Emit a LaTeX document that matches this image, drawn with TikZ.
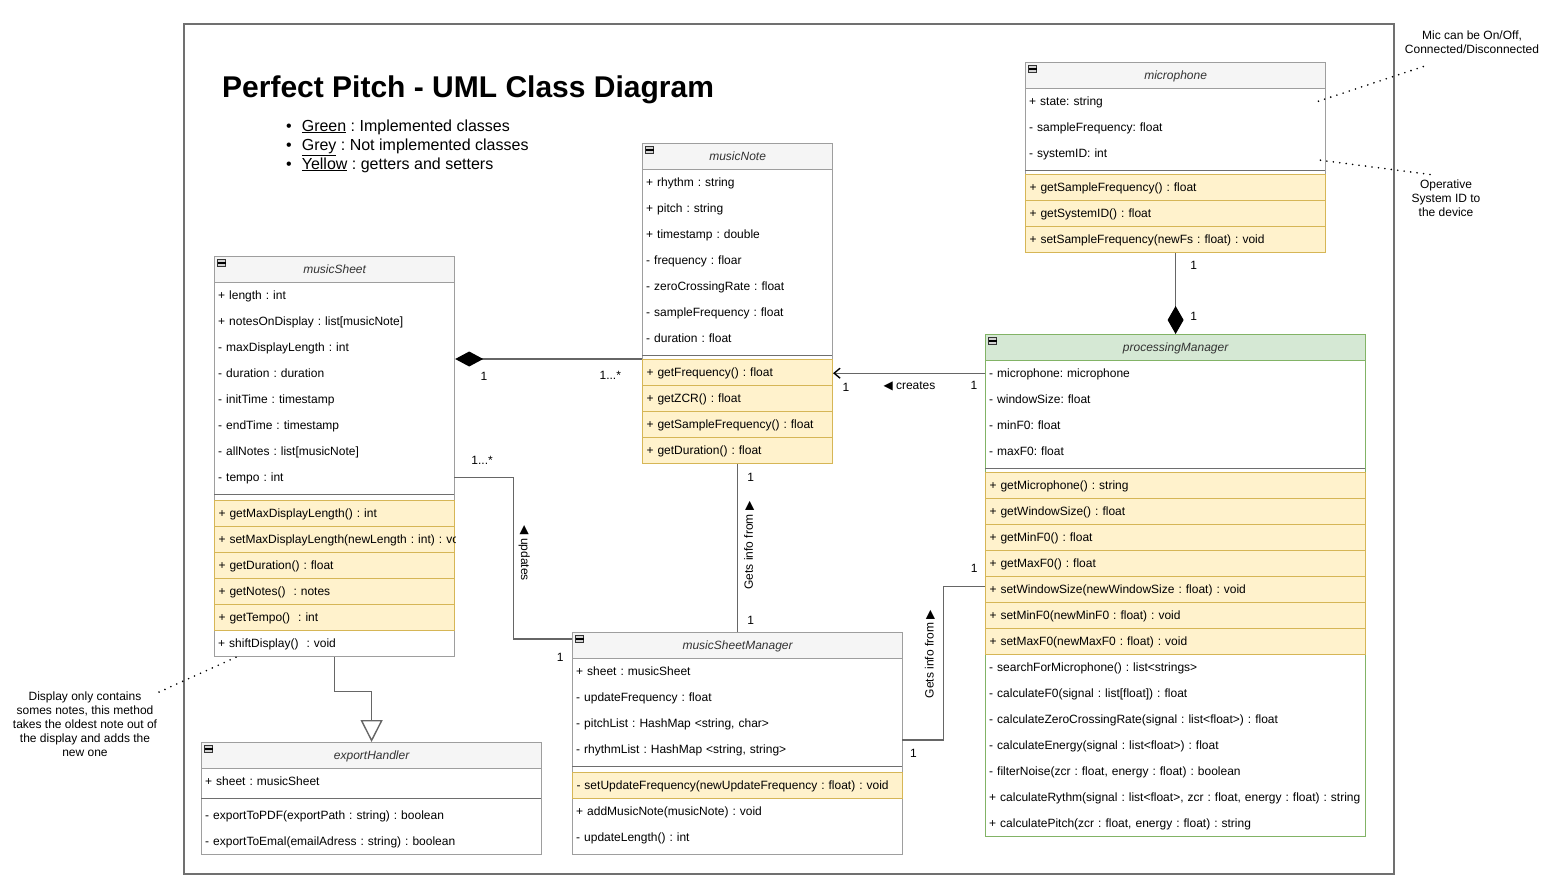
\documentclass[tikz,border=0pt]{standalone}
\usepackage{fontspec}
\setmainfont{Liberation Sans}
\newfontfamily\arrowfont{DejaVu Sans}
\usetikzlibrary{arrows.meta}
\frenchspacing

\definecolor{clsline}{HTML}{9E9E9E}
\definecolor{hdrfill}{HTML}{F5F5F5}
\definecolor{hdrtext}{HTML}{333333}
\definecolor{sepline}{HTML}{6E6E6E}
\definecolor{ylwfill}{HTML}{FFF2CC}
\definecolor{ylwline}{HTML}{D6B656}
\definecolor{grnfill}{HTML}{D5E8D4}
\definecolor{grnline}{HTML}{82B366}
\definecolor{wireline}{HTML}{666666}
\definecolor{frameline}{HTML}{707070}

\begin{document}
\begin{tikzpicture}[x=1pt, y=-1pt,
    box/.style={draw=clsline, fill=white, line width=1.2pt, anchor=north west, inner sep=0pt},
    head/.style={draw=clsline, fill=hdrfill, line width=1.2pt, anchor=north west, minimum height=26pt,
        inner sep=0pt, text height=8.6pt, text depth=0pt, text=hdrtext, font=\fontsize{12}{14}\selectfont\itshape,
        path picture={
            \draw[black!80, fill=gray!35, line width=0.6pt] ([shift={(3pt,-3pt)}]path picture bounding box.north west) rectangle ++(8pt,-7pt);
            \draw[black, line width=1.4pt] ([shift={(3pt,-6.5pt)}]path picture bounding box.north west) -- ++(8pt,0pt);
        }},
    row/.style={anchor=north west, minimum height=26pt, inner xsep=4pt, inner ysep=0pt,
        text height=8.6pt, text depth=0pt, align=left, font=\fontsize{12}{14}\selectfont},
    get/.style={row, draw=ylwline, fill=ylwfill, line width=1pt},
    sep/.style={draw=sepline, line width=1.6pt},
    wire/.style={draw=wireline, line width=1.4pt},
    lbl/.style={inner sep=0pt, text height=8.6pt, text depth=0pt, font=\fontsize{12}{14}\selectfont},
    note/.style={inner sep=0pt, align=center, font=\fontsize{12}{14}\selectfont},
    dots/.style={line width=1.8pt, line cap=round, dash pattern=on 0pt off 6.5pt}
  ]
\useasboundingbox (0,0) rectangle (1558,894);
\draw[frameline, line width=1.4pt] (184,24) rectangle (1394,874);

\node[anchor=base west, inner sep=0pt, font=\fontsize{30}{35}\selectfont\bfseries] (title) at (222,97) {Perfect Pitch - UML Class Diagram};
\node[anchor=base west, inner sep=0pt, font=\fontsize{16}{19}\selectfont] (legend) at (286,131) {%
    \begin{tabular}[t]{@{}l@{\hspace{10pt}}l@{}}
    • & \underline{Green} : Implemented classes\\
    • & \underline{Grey} : Not implemented classes\\
    • & \underline{Yellow} : getters and setters
    \end{tabular}};

% musicSheet
\begin{scope}[row/.append style={text width=232pt}]
\node[box, minimum width=240pt, minimum height=400pt] (sheet) at (214,256) {};
\node[head, minimum width=240pt] (sheetH) at (214,256) {musicSheet};
\node[row] (sheetA1) at (214,282) {+ length : int};
\node[row] (sheetA2) at (214,308) {+ notesOnDisplay : list[musicNote]};
\node[row] (sheetA3) at (214,334) {- maxDisplayLength : int};
\node[row] (sheetA4) at (214,360) {- duration : duration};
\node[row] (sheetA5) at (214,386) {- initTime : timestamp};
\node[row] (sheetA6) at (214,412) {- endTime : timestamp};
\node[row] (sheetA7) at (214,438) {- allNotes : list[musicNote]};
\node[row] (sheetA8) at (214,464) {- tempo : int};
\draw[sep] ([yshift=-4pt]sheetA8.south west) -- ([yshift=-4pt]sheetA8.south east);
\node[get] (sheetM1) at (214,500) {+ getMaxDisplayLength() : int};
\begin{scope}
\clip (213,525) rectangle (455,553);
\node[get] (sheetM2) at (214,526) {\makebox[232pt][l]{+ setMaxDisplayLength(newLength : int) : void}};
\end{scope}
\node[get] (sheetM3) at (214,552) {+ getDuration() : float};
\node[get] (sheetM4) at (214,578) {+ getNotes()~ : notes};
\node[get] (sheetM5) at (214,604) {+ getTempo()~ : int};
\node[row] (sheetM6) at (214,630) {+ shiftDisplay()~ : void};
\end{scope}

% musicNote
\begin{scope}[row/.append style={text width=182pt}]
\node[box, minimum width=190pt, minimum height=320pt] (note) at (642,143) {};
\node[head, minimum width=190pt] (noteH) at (642,143) {musicNote};
\node[row] (noteA1) at (642,169) {+ rhythm : string};
\node[row] (noteA2) at (642,195) {+ pitch : string};
\node[row] (noteA3) at (642,221) {+ timestamp : double};
\node[row] (noteA4) at (642,247) {- frequency : floar};
\node[row] (noteA5) at (642,273) {- zeroCrossingRate : float};
\node[row] (noteA6) at (642,299) {- sampleFrequency : float};
\node[row] (noteA7) at (642,325) {- duration : float};
\draw[sep] ([yshift=-4pt]noteA7.south west) -- ([yshift=-4pt]noteA7.south east);
\node[get] (noteM1) at (642,359) {+ getFrequency() : float};
\node[get] (noteM2) at (642,385) {+ getZCR() : float};
\node[get] (noteM3) at (642,411) {+ getSampleFrequency() : float};
\node[get] (noteM4) at (642,437) {+ getDuration() : float};
\end{scope}

% microphone
\begin{scope}[row/.append style={text width=292pt}]
\node[box, minimum width=300pt, minimum height=190pt] (mic) at (1025,62) {};
\node[head, minimum width=300pt] (micH) at (1025,62) {microphone};
\node[row] (micA1) at (1025,88) {+ state: string};
\node[row] (micA2) at (1025,114) {- sampleFrequency: float};
\node[row] (micA3) at (1025,140) {- systemID: int};
\draw[sep] ([yshift=-4pt]micA3.south west) -- ([yshift=-4pt]micA3.south east);
\node[get] (micM1) at (1025,174) {+ getSampleFrequency() : float};
\node[get] (micM2) at (1025,200) {+ getSystemID() : float};
\node[get] (micM3) at (1025,226) {+ setSampleFrequency(newFs : float) : void};
\end{scope}

% processingManager
\begin{scope}[row/.append style={text width=372pt}]
\node[box, draw=grnline, minimum width=380pt, minimum height=502pt] (proc) at (985,334) {};
\node[head, draw=grnline, fill=grnfill, minimum width=380pt] (procH) at (985,334) {processingManager};
\node[row] (procA1) at (985,360) {- microphone: microphone};
\node[row] (procA2) at (985,386) {- windowSize: float};
\node[row] (procA3) at (985,412) {- minF0: float};
\node[row] (procA4) at (985,438) {- maxF0: float};
\draw[sep] ([yshift=-4pt]procA4.south west) -- ([yshift=-4pt]procA4.south east);
\node[get] (procM1) at (985,472) {+ getMicrophone() : string};
\node[get] (procM2) at (985,498) {+ getWindowSize() : float};
\node[get] (procM3) at (985,524) {+ getMinF0() : float};
\node[get] (procM4) at (985,550) {+ getMaxF0() : float};
\node[get] (procM5) at (985,576) {+ setWindowSize(newWindowSize : float) : void};
\node[get] (procM6) at (985,602) {+ setMinF0(newMinF0 : float) : void};
\node[get] (procM7) at (985,628) {+ setMaxF0(newMaxF0 : float) : void};
\node[row] (procM8) at (985,654) {- searchForMicrophone() : list<strings>};
\node[row] (procM9) at (985,680) {- calculateF0(signal : list[float]) : float};
\node[row] (procM10) at (985,706) {- calculateZeroCrossingRate(signal : list<float>) : float};
\node[row] (procM11) at (985,732) {- calculateEnergy(signal : list<float>) : float};
\node[row] (procM12) at (985,758) {- filterNoise(zcr : float, energy : float) : boolean};
\node[row] (procM13) at (985,784) {+ calculateRythm(signal : list<float>, zcr : float, energy : float) : string};
\node[row] (procM14) at (985,810) {+ calculatePitch(zcr : float, energy : float) : string};
\end{scope}

% musicSheetManager
\begin{scope}[row/.append style={text width=322pt}]
\node[box, minimum width=330pt, minimum height=222pt] (mgr) at (572,632) {};
\node[head, minimum width=330pt] (mgrH) at (572,632) {musicSheetManager};
\node[row] (mgrA1) at (572,658) {+ sheet : musicSheet};
\node[row] (mgrA2) at (572,684) {- updateFrequency : float};
\node[row] (mgrA3) at (572,710) {- pitchList : HashMap <string, char>};
\node[row] (mgrA4) at (572,736) {- rhythmList : HashMap <string, string>};
\draw[sep] ([yshift=-4pt]mgrA4.south west) -- ([yshift=-4pt]mgrA4.south east);
\node[get] (mgrM1) at (572,772) {- setUpdateFrequency(newUpdateFrequency : float) : void};
\node[row] (mgrM2) at (572,798) {+ addMusicNote(musicNote) : void};
\node[row] (mgrM3) at (572,824) {- updateLength() : int};
\end{scope}

% exportHandler
\begin{scope}[row/.append style={text width=332pt}]
\node[box, minimum width=340pt, minimum height=112pt] (exp) at (201,742) {};
\node[head, minimum width=340pt] (expH) at (201,742) {exportHandler};
\node[row] (expA1) at (201,768) {+ sheet : musicSheet};
\draw[sep] ([yshift=-4pt]expA1.south west) -- ([yshift=-4pt]expA1.south east);
\node[row] (expM1) at (201,802) {- exportToPDF(exportPath : string) : boolean};
\node[row] (expM2) at (201,828) {- exportToEmal(emailAdress : string) : boolean};
\end{scope}

% relations
\draw[wire, {Diamond[length=28pt, width=15pt, black]}-] (sheet.east |- noteM1.north) -- node[lbl, pos=.154, below=12pt] (m1) {1} node[lbl, pos=.83, below=11pt] (m2) {1...*} (noteM1.north west);
\draw[wire] (sheetA8.east) -- node[lbl, pos=.47, above=12pt] (m3) {1...*} ++(59,0) |- node[lbl, pos=.235, xshift=12pt, rotate=-90] (upd) {{\arrowfont ◀} updates} node[lbl, pos=.9, below=13pt] (m4) {1} ([yshift=-7pt]mgr.north west);
\draw[wire] (note.south) -- node[lbl, pos=.077, right=9pt] (m5) {1} node[lbl, pos=.485, xshift=11pt, rotate=90] (info1) {Gets info from {\arrowfont ▶}} node[lbl, pos=.93, right=9pt] (m6) {1} (mgr.north);
\draw[wire] ([yshift=-4pt]mgrA4.north east) -- node[lbl, pos=.27, below=8pt] (m7) {1} ++(41,0) |- node[lbl, pos=.28, xshift=-14pt, rotate=90] (info2) {Gets info from {\arrowfont ▶}} node[lbl, pos=.87, above=13pt] (m8) {1} ([yshift=3pt]procM5.west);
\draw[wire, -{Straight Barb[length=6pt, width=10pt, black]}] (procA1.west) -- node[lbl, pos=.072, below=7pt] (m9) {1} node[lbl, pos=.497, below=7pt] (crt) {{\arrowfont ◀} creates} node[lbl, pos=.915, below=9pt] (m10) {1} (noteM1.east |- procA1.west);
\draw[wire, -{Diamond[length=28pt, width=16pt, black]}] (mic.south) -- node[lbl, pos=.146, right=14pt] (m11) {1} node[lbl, pos=.78, right=14pt] (m12) {1} (proc.north);
\draw[wire, -{Triangle[length=22pt, width=22pt, fill=white]}] (sheet.south) -- ++(0,34) -| (exp.north);

% notes
\node[note] (micNote) at (1472,42) {Mic can be On/Off,\\Connected/Disconnected};
\node[note] (osNote) at (1446,198) {Operative\\System ID to\\the device};
\node[note] (dispNote) at (85,724) {Display only contains\\somes notes, this method\\takes the oldest note out of\\the display and adds the\\new one};
\coordinate (micEnd) at (1425,66);
\coordinate (osEnd) at (1434,175);
\coordinate (dispEnd) at (157,693);
\draw[dots] ([xshift=-7pt]micA1.east) -- (micEnd);
\draw[dots] ([shift={(-5pt,-7pt)}]micA3.east) -- (osEnd);
\draw[dots] ([xshift=22pt]sheet.south west) -- (dispEnd);
\end{tikzpicture}
\end{document}
